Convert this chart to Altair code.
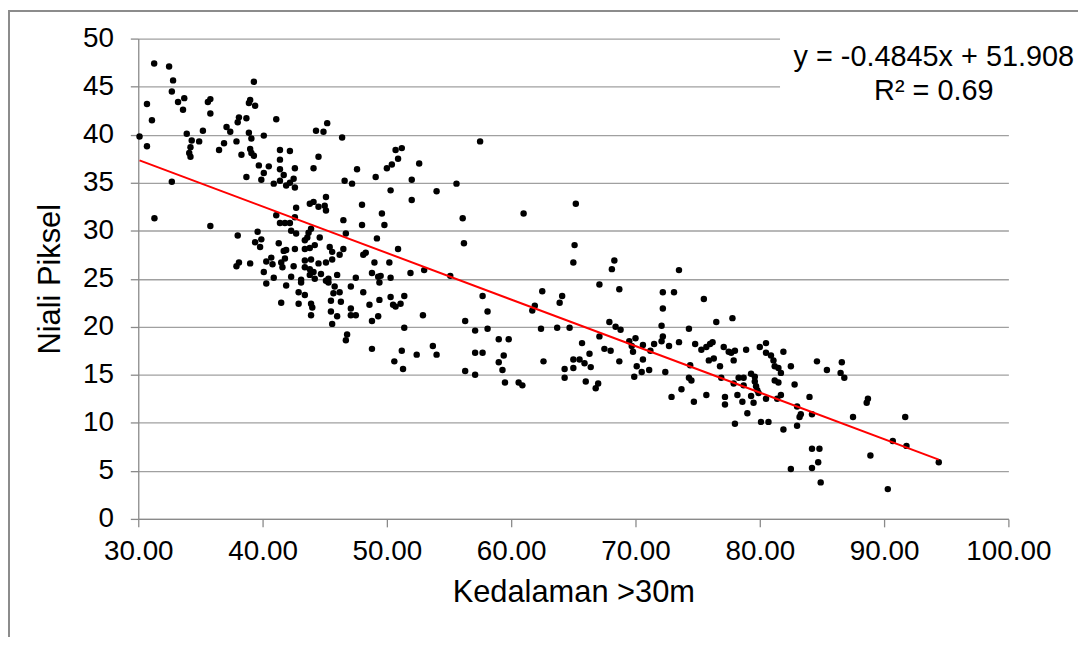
import altair as alt
import pandas as pd

# Scatter data (Kedalaman >30m vs Niali Piksel)
depth = [
    31.28, 32.48, 32.8, 32.7, 33.2, 33.7, 33.6, 30.7, 31.1, 30.1, 30.7, 33.9, 34.3, 34.2, 34.1, 34.2,
    34.9, 35.2, 35.6, 35.8, 35.8, 32.7, 31.3, 35.8, 36.5, 36.9, 37.1, 37.4, 37.9, 38.0, 38.1, 38.7,
    38.9, 39.0, 39.4, 39.3, 38.9, 39.1, 39.0, 39.1, 39.3, 38.3, 40.1, 41.1, 39.7, 40.5, 40.1, 39.9,
    38.7, 40.9, 41.4, 42.2, 41.4, 41.4, 41.7, 41.4, 42.6, 42.5, 42.2, 41.9, 42.6, 44.3, 44.9, 45.2,
    46.4, 44.5, 44.1, 46.6, 43.8, 44.1, 44.5, 45.0, 45.1, 45.1, 42.7, 41.1, 42.6, 41.4, 41.8, 42.2,
    46.5, 42.3, 42.7, 43.7, 43.9, 43.6, 46.7, 39.6, 38.0, 39.9, 39.4, 39.8, 41.3, 41.7, 41.9, 42.6,
    43.4, 43.8, 44.2, 44.6, 43.4, 45.4, 45.6, 46.5, 46.2, 38.1, 37.9, 39.0, 40.3, 40.7, 40.8, 41.5,
    41.8, 41.6, 42.5, 40.1, 40.9, 42.3, 43.4, 43.9, 43.4, 43.8, 44.1, 44.5, 44.7, 45.1, 45.6, 46.0,
    43.8, 43.1, 44.2, 45.3,
    57.5, 50.7, 51.2, 50.9, 52.6, 50.0, 50.4, 47.6, 49.1, 47.2, 52.0, 50.3, 54.0, 55.6, 52.0, 48.0,
    49.6, 61.0, 56.1, 48.0, 49.8, 49.2, 56.2, 50.9, 48.1, 48.3, 49.0, 50.2, 48.8, 49.3, 49.5, 50.3,
    51.9, 53.0, 55.1, 47.5,
    65.2, 65.1, 65.0, 68.3, 68.1, 73.5,
    40.3, 41.9, 43.1, 41.5, 42.9, 43.4, 42.9, 43.9, 44.0, 43.9, 45.1, 45.3, 45.8, 45.7, 46.2, 45.5,
    46.3, 45.5, 46.0, 45.6, 46.8, 46.7,
    49.4, 47.1, 48.1, 48.6, 49.4, 50.3, 50.5, 50.7, 51.1, 51.4, 47.1, 47.1, 47.5, 49.3, 48.8, 52.9,
    51.4, 48.8, 51.2, 50.6, 51.3, 52.4, 53.7, 54.0, 57.7, 58.1, 56.3, 57.1, 58.1, 59.0, 59.8, 57.1,
    57.7, 59.4, 59.0, 59.3, 56.3, 57.1, 59.5, 60.6, 60.9, 61.7, 61.9, 62.5, 63.9, 64.1, 62.4, 63.7,
    62.6, 64.3, 64.3,
    67.1, 68.7, 72.2, 73.1, 72.2, 75.5, 67.9, 68.4, 68.8, 64.7, 67.1, 65.7, 66.3, 67.5, 68.0, 65.0,
    65.0, 65.5, 65.9, 66.4, 66.0, 66.8, 67.0, 68.7, 69.5, 70.0, 69.7, 69.8, 70.6, 71.2, 71.5, 70.6,
    70.1, 70.5, 69.9, 71.1, 72.1, 72.2, 72.1, 72.7, 73.5, 72.4, 72.9, 73.7, 74.3, 74.4, 74.3, 74.5,
    74.7, 74.8, 75.3, 75.7, 76.0, 76.2, 75.9, 76.3, 75.7, 76.5, 77.1, 76.8, 76.9, 77.8, 77.5, 77.7,
    78.0, 77.9, 77.9, 77.2, 77.2, 78.2, 78.0, 78.3, 78.7, 78.7, 78.6, 78.9, 79.0, 79.3, 79.6, 79.6,
    79.7, 79.8, 79.9, 79.3, 79.5, 80.0, 80.5, 80.5, 80.9, 81.1, 81.2, 81.5, 81.7, 81.2, 81.5, 81.7,
    81.4, 80.5, 80.1, 80.7, 81.9, 81.9,
    82.5, 82.8, 84.6, 85.4, 86.6, 86.5, 86.8, 84.0, 83.0, 83.3, 83.2, 84.2, 83.0, 87.5, 88.6, 88.7,
    91.7, 84.2, 84.8, 84.7, 84.2, 82.5, 84.9, 88.9, 90.7, 91.8, 90.3, 94.4,
]
pixel = [
    47.4, 47.1, 45.65, 44.5, 43.4, 43.8, 42.6, 43.2, 41.5, 39.8, 38.8, 40.1, 39.4, 38.7, 38.1, 37.7,
    39.3, 40.4, 43.4, 43.7, 42.2, 35.1, 31.3, 30.5, 38.4, 39.1, 40.8, 40.3, 39.3, 41.3, 41.8, 41.7,
    43.3, 43.6, 43.0, 45.5, 40.2, 39.6, 38.5, 38.1, 37.8, 37.9, 39.9, 41.6, 36.8, 36.7, 36.0, 35.3,
    35.6, 34.9, 38.4, 38.3, 37.4, 36.4, 35.8, 35.2, 36.5, 35.4, 35.0, 34.7, 34.5, 40.4, 40.3, 41.2,
    39.7, 37.7, 36.5, 35.2, 32.8, 33.0, 32.5, 32.6, 32.1, 33.5, 32.4, 31.6, 31.4, 30.8, 30.8, 30.8,
    31.1, 30.0, 29.7, 29.8, 30.2, 29.3, 29.7, 29.9, 29.5, 29.1, 28.8, 28.3, 28.7, 27.9, 28.0, 28.1,
    29.0, 28.2, 28.5, 29.3, 28.1, 28.3, 27.8, 28.1, 27.5, 26.7, 26.3, 26.6, 26.8, 27.2, 26.5, 26.7,
    27.1, 26.2, 26.3, 25.7, 25.1, 25.2, 26.9, 27.0, 26.2, 26.0, 25.7, 26.6, 25.5, 26.7, 27.0, 25.4,
    25.4, 24.9, 25.0, 25.0,
    39.3, 38.4, 38.6, 37.5, 37.0, 36.5, 36.9, 36.4, 35.6, 34.9, 35.3, 34.2, 34.1, 34.9, 33.2, 32.7,
    31.8, 31.8, 31.3, 30.6, 30.6, 29.2, 28.7, 28.1, 27.5, 27.7, 26.7, 26.7, 25.6, 25.2, 25.3, 25.1,
    25.6, 25.9, 25.3, 25.1,
    32.8, 28.5, 26.7, 26.9, 26.0, 25.9,
    24.5, 24.3, 24.6, 22.5, 23.6, 23.3, 22.4, 22.4, 22.0, 21.2, 24.8, 24.6, 24.2, 23.5, 23.6, 22.7,
    22.6, 21.6, 21.1, 20.3, 19.2, 18.6,
    24.6, 24.2, 23.6, 22.3, 22.8, 23.1, 22.3, 22.1, 22.4, 23.2, 21.9, 21.2, 21.2, 21.1, 20.6, 21.2,
    19.9, 17.7, 17.5, 16.4, 15.6, 17.1, 18.0, 17.1, 23.2, 21.6, 20.6, 19.6, 19.8, 18.7, 18.7, 17.3,
    17.3, 17.0, 16.3, 15.5, 15.4, 15.0, 14.2, 14.2, 13.9, 21.7, 22.2, 23.7, 22.5, 23.2, 19.8, 19.9,
    16.4, 15.6, 14.7,
    24.4, 23.9, 23.6, 23.6, 21.9, 22.9, 20.5, 20.0, 19.7, 19.9, 19.0, 18.3, 17.2, 17.7, 17.5, 16.6,
    15.7, 16.6, 16.2, 15.8, 14.3, 13.6, 14.1, 16.4, 18.5, 18.8, 18.0, 17.4, 18.1, 17.5, 18.2, 16.6,
    15.9, 15.3, 14.8, 15.5, 18.5, 19.0, 20.1, 18.0, 18.4, 15.3, 12.7, 13.5, 19.8, 16.0, 14.7, 14.4,
    12.2, 18.2, 17.6, 17.9, 18.2, 18.4, 16.5, 16.7, 12.9, 20.5, 17.9, 15.9, 14.7, 20.9, 17.4, 17.3,
    17.5, 16.5, 14.1, 12.7, 11.9, 12.9, 9.9, 14.7, 14.7, 13.9, 12.2, 17.6, 11.0, 15.1, 14.8, 14.3,
    13.8, 13.4, 13.1, 12.8, 12.1, 17.9, 18.3, 17.3, 17.0, 16.5, 15.9, 15.7, 15.2, 14.4, 14.2, 12.9,
    12.5, 12.5, 10.1, 10.1, 9.3, 17.4,
    15.9, 14.0, 16.4, 15.5, 16.3, 15.2, 14.7, 12.7, 11.7, 10.9, 10.6, 10.9, 9.7, 10.6, 12.1, 12.5,
    10.6, 7.3, 7.3, 5.9, 5.3, 5.2, 3.8, 6.6, 8.1, 7.6, 3.1, 5.9,
]

# Trendline as stated on the chart
slope = -0.4845
intercept = 51.908
eq_lines = ["y = -0.4845x + 51.908", "R² = 0.69"]
eq_x = [94.0, 94.0]
eq_y = [47.1, 43.6]

x_ticks = [30, 40, 50, 60, 70, 80, 90, 100]
y_ticks = [0, 5, 10, 15, 20, 25, 30, 35, 40, 45, 50]

FONT = "Liberation Sans"
LABEL_FS = 28
TITLE_FS = 31
EQ_FS = 29

pts = pd.DataFrame({"x": depth, "y": pixel})
xmin, xmax = min(depth), max(depth)
trend = pd.DataFrame({"x": [xmin, xmax], "y": [slope * xmin + intercept, slope * xmax + intercept]})
eq = pd.DataFrame({"x": eq_x, "y": eq_y, "t": eq_lines})

xs = alt.Scale(domain=[30, 100], nice=False, zero=False)
ys = alt.Scale(domain=[0, 50], nice=False)

points = alt.Chart(pts).mark_circle(size=42, color="black", opacity=1).encode(
    x=alt.X("x:Q", scale=xs, title="Kedalaman >30m",
            axis=alt.Axis(values=x_ticks, format=".2f", grid=False, tickSize=8,
                          labelPadding=11, titlePadding=12, labelFlush=False,
                          labelOverlap=False)),
    y=alt.Y("y:Q", scale=ys, title="Niali Piksel",
            axis=alt.Axis(values=y_ticks, grid=True, tickSize=8, labelPadding=17,
                          titlePadding=16, labelFlush=False, labelOverlap=False)),
)

line = alt.Chart(trend).mark_line(color="#ff0000", strokeWidth=2).encode(
    x=alt.X("x:Q", scale=xs), y=alt.Y("y:Q", scale=ys)
)

box = alt.Chart(pts).mark_rect(color="white").encode(
    x=alt.value(646), x2=alt.value(950), y=alt.value(-20), y2=alt.value(72)
)

text = alt.Chart(eq).mark_text(font=FONT, fontSize=EQ_FS, color="black", align="center",
                              baseline="alphabetic").encode(
    x=alt.X("x:Q", scale=xs), y=alt.Y("y:Q", scale=ys), text="t:N"
)

frame_top = alt.Chart(pts).mark_rule(color="#8c8c8c", strokeWidth=1.5).encode(
    x=alt.value(-130.5), x2=alt.value(950), y=alt.value(-28)
)
frame_left = alt.Chart(pts).mark_rule(color="#8c8c8c", strokeWidth=1.5).encode(
    x=alt.value(-130.5), y=alt.value(-28), y2=alt.value(640)
)

chart = alt.layer(points, line, box, text, frame_top, frame_left).properties(
    width=875, height=483,
    autosize=alt.AutoSizeParams(type="none"),
    padding={"left": 131, "top": 29, "right": 70, "bottom": 117},
    background="white",
).configure_view(stroke=None).configure_axis(
    labelFont=FONT, titleFont=FONT, labelFontSize=LABEL_FS, titleFontSize=TITLE_FS,
    labelColor="black", titleColor="black", titleFontWeight="normal",
    domainColor="#8a8a8a", domainWidth=1.3, tickColor="#8a8a8a", tickWidth=1.3,
    gridColor="#a0a0a0", gridWidth=1.3,
)

chart.save("out.html", embed_options={"renderer": "svg", "actions": False})
